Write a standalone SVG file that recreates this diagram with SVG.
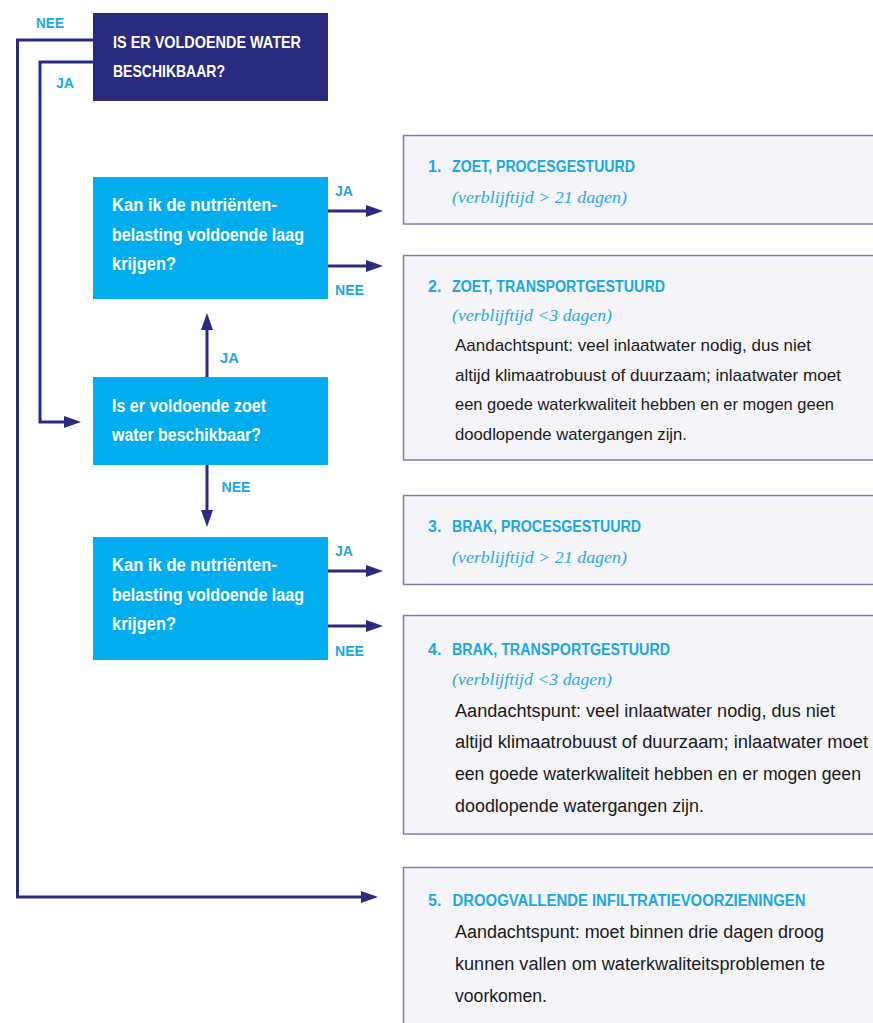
<svg xmlns="http://www.w3.org/2000/svg" width="873" height="1023" viewBox="0 0 873 1023">
<defs>
<marker id="ah" markerUnits="userSpaceOnUse" markerWidth="17" markerHeight="12" refX="0" refY="6" orient="auto">
<path d="M0,0 L17,6 L0,12 z" fill="#2b2a80"/>
</marker>
<style>
.q{font-family:"Liberation Sans",Arial,sans-serif;font-weight:bold;fill:#ffffff;}
.lbl{font-family:"Liberation Sans",Arial,sans-serif;font-weight:bold;font-size:15.5px;fill:#1ba8e2;}
.ttl{font-family:"Liberation Sans",Arial,sans-serif;font-weight:bold;font-size:16px;fill:#1ba8e2;}
.it{font-family:"Liberation Serif","Times New Roman",serif;font-style:italic;font-size:17.5px;fill:#2aa9e0;}
.body{font-family:"Liberation Sans",Arial,sans-serif;font-size:17px;fill:#1a1a1a;}
.body2{font-family:"Liberation Sans",Arial,sans-serif;font-size:18px;fill:#1a1a1a;}
.dec{fill:#00aeef;}
.res{fill:#f4f4f9;stroke:#7e7bb9;stroke-width:1.5;}
.con{fill:none;stroke:#2b2a80;stroke-width:3;marker-end:url(#ah);}
</style>
</defs>
<rect width="873" height="1023" fill="#ffffff"/>

<g id="connectors">
<path class="con" d="M93,40 H17.5 V897 H361"/>
<path class="con" d="M93,62 H40 V422 H64"/>
<path class="con" d="M207,377 V330"/>
<path class="con" d="M207,465 V510"/>
<path class="con" d="M328,211 H366"/>
<path class="con" d="M328,266 H366"/>
<path class="con" d="M328,571 H366"/>
<path class="con" d="M328,626 H366"/>
<text class="lbl" x="36" y="28" textLength="28" lengthAdjust="spacingAndGlyphs">NEE</text>
<text class="lbl" x="56" y="88" textLength="18" lengthAdjust="spacingAndGlyphs">JA</text>
<text class="lbl" x="335" y="196" textLength="18" lengthAdjust="spacingAndGlyphs">JA</text>
<text class="lbl" x="335" y="295" textLength="29" lengthAdjust="spacingAndGlyphs">NEE</text>
<text class="lbl" x="220" y="363" textLength="19" lengthAdjust="spacingAndGlyphs">JA</text>
<text class="lbl" x="221.5" y="492" textLength="29" lengthAdjust="spacingAndGlyphs">NEE</text>
<text class="lbl" x="335" y="556" textLength="18" lengthAdjust="spacingAndGlyphs">JA</text>
<text class="lbl" x="335" y="656" textLength="29" lengthAdjust="spacingAndGlyphs">NEE</text>
</g>

<g id="q-water">
<rect x="93" y="13" width="235" height="88" fill="#2a2a7f"/>
<text class="q" font-size="17" x="113" y="48" textLength="188" lengthAdjust="spacingAndGlyphs">IS ER VOLDOENDE WATER</text>
<text class="q" font-size="17" x="113" y="77" textLength="112" lengthAdjust="spacingAndGlyphs">BESCHIKBAAR?</text>
</g>

<g id="q-nutrient-zoet">
<rect class="dec" x="93" y="177" width="235" height="122"/>
<text class="q" font-size="17.5" x="112" y="211" textLength="165" lengthAdjust="spacingAndGlyphs">Kan ik de nutriënten-</text>
<text class="q" font-size="17.5" x="112" y="241" textLength="192" lengthAdjust="spacingAndGlyphs">belasting voldoende laag</text>
<text class="q" font-size="17.5" x="112" y="270" textLength="64" lengthAdjust="spacingAndGlyphs">krijgen?</text>
</g>

<g id="q-zoet">
<rect class="dec" x="93" y="377" width="235" height="88"/>
<text class="q" font-size="17.5" x="112" y="412" textLength="154" lengthAdjust="spacingAndGlyphs">Is er voldoende zoet</text>
<text class="q" font-size="17.5" x="112" y="441" textLength="149" lengthAdjust="spacingAndGlyphs">water beschikbaar?</text>
</g>

<g id="q-nutrient-brak">
<rect class="dec" x="93" y="537" width="235" height="123"/>
<text class="q" font-size="17.5" x="112" y="571" textLength="165" lengthAdjust="spacingAndGlyphs">Kan ik de nutriënten-</text>
<text class="q" font-size="17.5" x="112" y="601" textLength="192" lengthAdjust="spacingAndGlyphs">belasting voldoende laag</text>
<text class="q" font-size="17.5" x="112" y="630" textLength="64" lengthAdjust="spacingAndGlyphs">krijgen?</text>
</g>

<g id="r1">
<rect class="res" x="403.5" y="135.5" width="480" height="88.5"/>
<text class="ttl" x="428" y="172">1.</text>
<text class="ttl" x="452" y="172" textLength="183" lengthAdjust="spacingAndGlyphs">ZOET, PROCESGESTUURD</text>
<text class="it" x="452" y="203" textLength="175" lengthAdjust="spacingAndGlyphs">(verblijftijd &gt; 21 dagen)</text>
</g>

<g id="r2">
<rect class="res" x="403.5" y="255.5" width="480" height="204.5"/>
<text class="ttl" x="428" y="292">2.</text>
<text class="ttl" x="452" y="292" textLength="213" lengthAdjust="spacingAndGlyphs">ZOET, TRANSPORTGESTUURD</text>
<text class="it" x="452" y="321" textLength="160" lengthAdjust="spacingAndGlyphs">(verblijftijd &lt;3 dagen)</text>
<text class="body" x="455" y="351" textLength="356" lengthAdjust="spacingAndGlyphs">Aandachtspunt: veel inlaatwater nodig, dus niet</text>
<text class="body" x="455" y="381" textLength="386" lengthAdjust="spacingAndGlyphs">altijd klimaatrobuust of duurzaam; inlaatwater moet</text>
<text class="body" x="455" y="410" textLength="379" lengthAdjust="spacingAndGlyphs">een goede waterkwaliteit hebben en er mogen geen</text>
<text class="body" x="455" y="440" textLength="232" lengthAdjust="spacingAndGlyphs">doodlopende watergangen zijn.</text>
</g>

<g id="r3">
<rect class="res" x="403.5" y="495.5" width="480" height="89"/>
<text class="ttl" x="428" y="532">3.</text>
<text class="ttl" x="452" y="532" textLength="189" lengthAdjust="spacingAndGlyphs">BRAK, PROCESGESTUURD</text>
<text class="it" x="452" y="563" textLength="175" lengthAdjust="spacingAndGlyphs">(verblijftijd &gt; 21 dagen)</text>
</g>

<g id="r4">
<rect class="res" x="403.5" y="615.5" width="480" height="218.5"/>
<text class="ttl" x="428" y="655">4.</text>
<text class="ttl" x="452" y="655" textLength="218" lengthAdjust="spacingAndGlyphs">BRAK, TRANSPORTGESTUURD</text>
<text class="it" x="452" y="685" textLength="160" lengthAdjust="spacingAndGlyphs">(verblijftijd &lt;3 dagen)</text>
<text class="body2" x="455" y="717" textLength="380" lengthAdjust="spacingAndGlyphs">Aandachtspunt: veel inlaatwater nodig, dus niet</text>
<text class="body2" x="455" y="748" textLength="413" lengthAdjust="spacingAndGlyphs">altijd klimaatrobuust of duurzaam; inlaatwater moet</text>
<text class="body2" x="455" y="780" textLength="406" lengthAdjust="spacingAndGlyphs">een goede waterkwaliteit hebben en er mogen geen</text>
<text class="body2" x="455" y="812" textLength="249" lengthAdjust="spacingAndGlyphs">doodlopende watergangen zijn.</text>
</g>

<g id="r5">
<rect class="res" x="403.5" y="867.5" width="480" height="170"/>
<text class="ttl" x="428" y="906">5.</text>
<text class="ttl" x="452.5" y="906" textLength="353" lengthAdjust="spacingAndGlyphs">DROOGVALLENDE INFILTRATIEVOORZIENINGEN</text>
<text class="body2" x="455" y="938" textLength="369" lengthAdjust="spacingAndGlyphs">Aandachtspunt: moet binnen drie dagen droog</text>
<text class="body2" x="455" y="970" textLength="370" lengthAdjust="spacingAndGlyphs">kunnen vallen om waterkwaliteitsproblemen te</text>
<text class="body2" x="455" y="1002" textLength="92" lengthAdjust="spacingAndGlyphs">voorkomen.</text>
</g>
</svg>
